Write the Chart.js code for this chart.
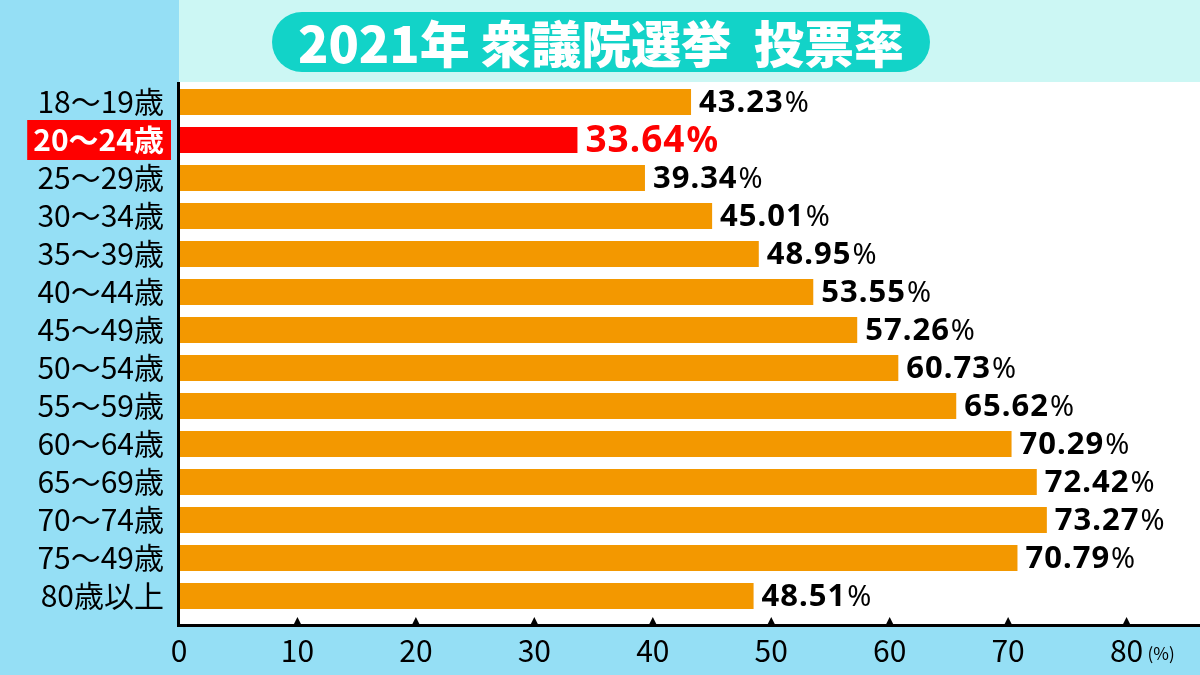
<!DOCTYPE html>
<html>
<head>
<meta charset="utf-8">
<script src="https://cdn.jsdelivr.net/npm/chart.js@4.4.0/dist/chart.umd.min.js"></script>
<style>
  html, body { margin:0; padding:0; background:#95dff5; }
  #wrap { width:1200px; height:675px; position:relative; }
</style>
</head>
<body>
<div id="wrap"><canvas id="chart" width="1200" height="675"></canvas></div>
<script>
// データ
const titleText = "2021年 衆議院選挙  投票率";
const ageLabels = ["18〜19歳","20〜24歳","25〜29歳","30〜34歳","35〜39歳","40〜44歳","45〜49歳","50〜54歳","55〜59歳","60〜64歳","65〜69歳","70〜74歳","75〜49歳","80歳以上"];
const turnout = [43.23, 33.64, 39.34, 45.01, 48.95, 53.55, 57.26, 60.73, 65.62, 70.29, 72.42, 73.27, 70.79, 48.51];
const highlightIndex = 1;
const xTicks = [0,10,20,30,40,50,60,70,80];

const ORANGE = "#f39800", RED = "#fe0000", BLUE = "#95dff5", CYAN = "#ccf7f4", TEAL = "#12d3c8";
const JP = "'Noto Sans CJK JP', 'Noto Sans', sans-serif";

// 背景・軸・タイトル
const decor = {
  id: "decor",
  beforeDraw(chart){
    const {ctx, chartArea:a} = chart;
    ctx.save();
    ctx.fillStyle = BLUE; ctx.fillRect(0,0,1200,675);
    ctx.fillStyle = CYAN; ctx.fillRect(a.left,0,1200-a.left,82);
    ctx.fillStyle = "#ffffff"; ctx.fillRect(a.left,82,1200-a.left,625-82);
    // タイトル
    const x0=272, x1=930, y0=12, y1=72, r=(y1-y0)/2;
    ctx.fillStyle = TEAL;
    ctx.beginPath();
    ctx.moveTo(x0+r,y0); ctx.lineTo(x1-r,y0);
    ctx.arc(x1-r,y0+r,r,-Math.PI/2,Math.PI/2);
    ctx.lineTo(x0+r,y1);
    ctx.arc(x0+r,y0+r,r,Math.PI/2,Math.PI*1.5);
    ctx.fill();
    ctx.fillStyle = "#ffffff";
    ctx.font = "900 50px " + JP;
    ctx.textAlign = "center"; ctx.textBaseline = "middle";
    ctx.fillText(titleText, (x0+x1)/2, (y0+y1)/2+2);
    ctx.restore();
  },
  afterDatasetsDraw(chart){
    const {ctx, chartArea:a, scales:{x}} = chart;
    ctx.save();
    ctx.fillStyle = "#000";
    ctx.fillRect(a.left-2, 82, 3, 625-82+2);
    ctx.fillRect(a.left-2, 624, 1200-a.left+2, 3);
    xTicks.forEach(v=>{
      if(v===0) return;
      const px = x.getPixelForValue(v);
      ctx.beginPath();
      ctx.moveTo(px-4,625); ctx.lineTo(px,617); ctx.lineTo(px+4,625);
      ctx.fill();
    });
    // (%)
    ctx.font = "17px " + JP;
    ctx.textAlign = "left"; ctx.textBaseline = "middle";
    ctx.fillText("(%)", x.getPixelForValue(80)+21, 654);
    // 値ラベル
    const meta = chart.getDatasetMeta(0);
    meta.data.forEach((bar,i)=>{
      const hi = i===highlightIndex;
      const num = turnout[i].toFixed(2);
      let tx = bar.x + 8;
      ctx.fillStyle = hi ? RED : "#000";
      ctx.textBaseline = "middle";
      ctx.letterSpacing = "1px";
      ctx.font = "bold " + (hi ? 37 : 31) + "px 'Noto Sans', sans-serif";
      ctx.fillText(num, tx, bar.y+1);
      tx += ctx.measureText(num).width + 1;
      ctx.letterSpacing = "0px";
      ctx.font = hi ? "bold 35px 'Noto Sans', sans-serif" : "29px 'Noto Sans', sans-serif";
      ctx.fillText("%", tx, bar.y+2);
    });
    ctx.restore();
  }
};

new Chart(document.getElementById("chart").getContext("2d"), {
  type: "bar",
  data: {
    labels: ageLabels,
    datasets: [{
      data: turnout,
      backgroundColor: turnout.map((v,i)=> i===highlightIndex ? RED : ORANGE),
      borderWidth: 0,
      barPercentage: 0.69,
      categoryPercentage: 1
    }]
  },
  options: {
    indexAxis: "y",
    responsive: false,
    animation: false,
    layout: { padding: { top: 83, right: 0, left: 0, bottom: 0 } },
    plugins: { legend:{display:false}, tooltip:{enabled:false}, title:{display:false} },
    scales: {
      x: {
        min: 0, max: 86.2,
        afterFit(s){ s.height = 675-615; },
        afterBuildTicks(s){ s.ticks = xTicks.map(v=>({value:v})); },
        grid: { display:false, drawTicks:false },
        border: { display:false },
        ticks: { color:"#000", padding: 18, font:{ family: JP, size: 30 } }
      },
      y: {
        afterFit(s){ s.width = 179; },
        grid: { display:false, drawTicks:false },
        border: { display:false },
        ticks: {
          autoSkip: false,
          padding: 15,
          color: c => c.index===highlightIndex ? "#ffffff" : "#000",
          font: c => ({ family: JP, size: 30, weight: c.index===highlightIndex ? "bold" : "normal" }),
          showLabelBackdrop: c => c.index===highlightIndex,
          backdropColor: c => c.index===highlightIndex ? RED : "rgba(0,0,0,0)",
          backdropPadding: { left: 6, right: 7, top: 2, bottom: 2 }
        }
      }
    }
  },
  plugins: [decor]
});
</script>
</body>
</html>
